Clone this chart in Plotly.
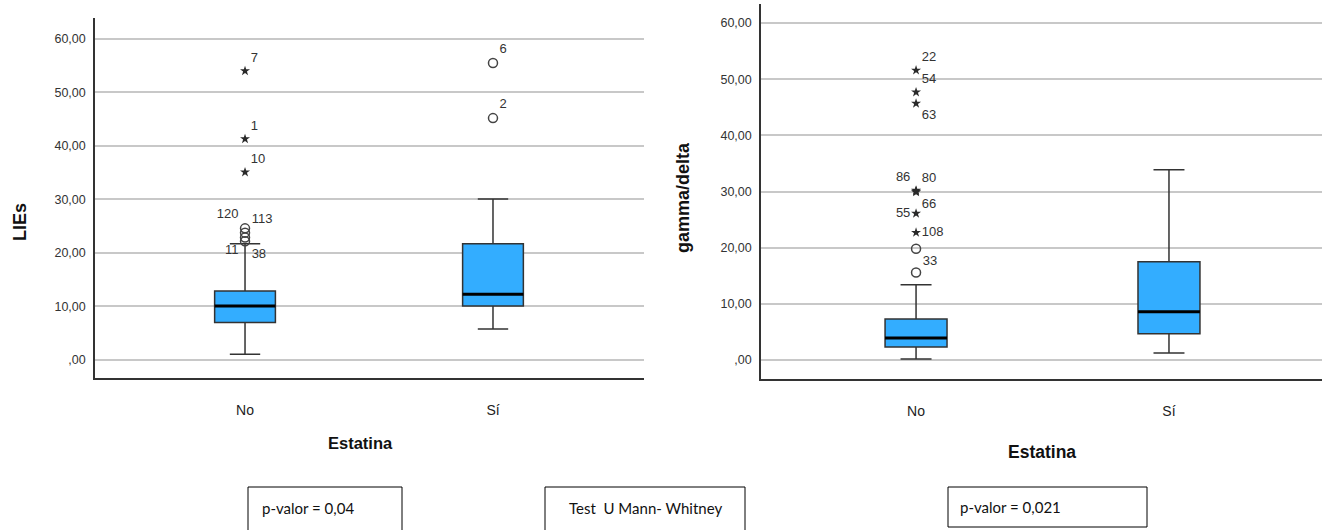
import plotly.graph_objects as go

# ---------------- data ----------------
categories = ["No", "Sí"]
cat_pos = [0, 1]

tick_values = [0, 10, 20, 30, 40, 50, 60]
tick_labels = [",00", "10,00", "20,00", "30,00", "40,00", "50,00", "60,00"]

# LIEs
lies_q1 = [7.0, 10.1]
lies_median = [10.1, 12.3]
lies_q3 = [12.9, 21.7]
lies_low = [1.1, 5.8]
lies_high = [21.7, 30.1]

lies_out_cat = [0, 0, 0, 0, 1, 1]
lies_out_val = [24.6, 23.8, 22.9, 22.2, 55.5, 45.2]
lies_out_lab = ["120", "113", "11", "38", "6", "2"]
lies_ext_cat = [0, 0, 0]
lies_ext_val = [54.0, 41.3, 35.1]
lies_ext_lab = ["7", "1", "10"]

# gamma/delta
gd_q1 = [2.3, 4.7]
gd_median = [3.9, 8.6]
gd_q3 = [7.3, 17.5]
gd_low = [0.2, 1.25]
gd_high = [13.4, 33.9]

gd_out_cat = [0, 0]
gd_out_val = [19.8, 15.6]
gd_out_lab = ["33", ""]
gd_ext_cat = [0, 0, 0, 0, 0, 0, 0, 0]
gd_ext_val = [51.6, 47.7, 45.7, 30.2, 30.05, 29.9, 26.1, 22.7]
gd_ext_lab = ["22", "54", "63", "86", "80", "66", "55", "108"]

# ---------------- styles ----------------
lies_out_pos = ["top left", "top right", "bottom left", "bottom right", "top right", "top right"]
lies_ext_pos = ["top right", "top right", "top right"]
gd_out_pos = ["bottom right", "bottom right"]
gd_ext_pos = ["top right", "top right", "bottom right", "top left", "top right",
              "bottom right", "middle left", "middle right"]

BOX_FILL = "#33ADFF"
LINE = "#333333"
BOX_W = 0.245
AX_FONT = dict(family="Liberation Sans, Arial, sans-serif", size=12.5, color="#333333")
LAB_FONT = dict(family="Liberation Sans, Arial, sans-serif", size=13, color="#333333")

fig = go.Figure()


def add_panel(xa, ya, q1, med, q3, low, high, ocat, oval, olab, opos, ecat, eval_, elab, epos):
    fig.add_trace(go.Box(
        x=cat_pos, q1=q1, median=med, q3=q3, lowerfence=low, upperfence=high,
        width=BOX_W, whiskerwidth=0.5, fillcolor=BOX_FILL,
        line=dict(color=LINE, width=1.5), boxpoints=False,
        xaxis=xa, yaxis=ya, showlegend=False, hoverinfo="skip"))
    for c, m in zip(cat_pos, med):
        fig.add_trace(go.Scatter(
            x=[c - BOX_W / 2, c + BOX_W / 2], y=[m, m], mode="lines",
            line=dict(color="black", width=3), xaxis=xa, yaxis=ya,
            showlegend=False, hoverinfo="skip"))
    fig.add_trace(go.Scatter(
        x=ocat, y=oval, text=olab, textposition=opos, mode="markers+text",
        marker=dict(symbol="circle-open", size=9, color="#444444", line=dict(width=1.5)),
        textfont=LAB_FONT, xaxis=xa, yaxis=ya, showlegend=False, hoverinfo="skip"))
    fig.add_trace(go.Scatter(
        x=ecat, y=eval_, text=elab, textposition=epos, mode="markers+text",
        marker=dict(symbol="star", size=7.5, color="#2a2a2a"),
        textfont=LAB_FONT, xaxis=xa, yaxis=ya, showlegend=False, hoverinfo="skip"))


add_panel("x", "y", lies_q1, lies_median, lies_q3, lies_low, lies_high,
          lies_out_cat, lies_out_val, lies_out_lab, lies_out_pos,
          lies_ext_cat, lies_ext_val, lies_ext_lab, lies_ext_pos)
add_panel("x2", "y2", gd_q1, gd_median, gd_q3, gd_low, gd_high,
          gd_out_cat, gd_out_val, gd_out_lab, gd_out_pos,
          gd_ext_cat, gd_ext_val, gd_ext_lab, gd_ext_pos)

W, H = 1330, 530


def px(x):
    return x / W


def py(y):
    return 1 - y / H


xcommon = dict(tickvals=cat_pos, ticktext=categories, showgrid=False, zeroline=False,
               showline=True, linecolor=LINE, linewidth=1.5, ticks="outside", ticklen=18,
               tickcolor="rgba(0,0,0,0)",
               tickfont=dict(family="Liberation Sans, Arial, sans-serif", size=14, color="#222222"))
ycommon = dict(tickvals=tick_values, ticktext=tick_labels, showgrid=True, gridcolor="#c8c8c8",
               gridwidth=1.5, zeroline=False, showline=True, linecolor=LINE, linewidth=1.5,
               ticks="outside", ticklen=5, tickcolor="rgba(0,0,0,0)", tickfont=AX_FONT)

fig.update_layout(
    width=W, height=H, margin=dict(l=0, r=0, t=0, b=0),
    paper_bgcolor="white", plot_bgcolor="white",
    xaxis=dict(domain=[px(95), px(644)], range=[-0.605, 1.609], anchor="y", **xcommon),
    yaxis=dict(domain=[py(378), py(18)], range=[-3.36, 63.9], anchor="x", **ycommon),
    xaxis2=dict(domain=[px(761), px(1322)], range=[-0.613, 1.605], anchor="y2", **xcommon),
    yaxis2=dict(domain=[py(379), py(4)], range=[-3.38, 63.4], anchor="x2", **ycommon),
)

TITLE_FONT = dict(family="Liberation Sans, Arial, sans-serif", size=16, color="#111111")
BOLD = lambda s: "<b>" + s + "</b>"
annots = [
    dict(x=px(20), y=py(222), text=BOLD("LIEs"), textangle=-90, font=dict(TITLE_FONT, size=18)),
    dict(x=px(683), y=py(198), text=BOLD("gamma/delta"), textangle=-90, font=dict(TITLE_FONT, size=18)),
    dict(x=px(360), y=py(443), text=BOLD("Estatina"), font=dict(TITLE_FONT, size=16.5)),
    dict(x=px(1042), y=py(452), text=BOLD("Estatina"), font=dict(TITLE_FONT, size=17.5)),
]
BOX_FONT = dict(family="Lato, Carlito, sans-serif", size=15, color="#111111")
boxes = [
    (248, 402, 487, 531, "p-valor = 0,04", "left", 260),
    (545, 745, 487, 531, "Test  U Mann- Whitney", "center", 645),
    (948, 1147, 487, 527, "p-valor = 0,021", "left", 958),
]
shapes = []
for x0, x1, y0, y1, txt, al, tx in boxes:
    shapes.append(dict(type="rect", xref="paper", yref="paper", x0=px(x0), x1=px(x1),
                       y0=py(y1), y1=py(y0), line=dict(color="black", width=1)))
    annots.append(dict(x=px(tx), y=py((y0 + min(y1, 529)) / 2), text=txt, font=BOX_FONT,
                       xanchor="left" if al == "left" else "center"))
for a in annots:
    a.setdefault("xref", "paper")
    a.setdefault("yref", "paper")
    a.setdefault("showarrow", False)
    a.setdefault("xanchor", "center")
    a.setdefault("yanchor", "middle")
fig.update_layout(annotations=annots, shapes=shapes)

fig.write_html("out.html", config={"displayModeBar": False},
               post_script="document.body.style.margin='0px';document.body.style.overflow='hidden';")
